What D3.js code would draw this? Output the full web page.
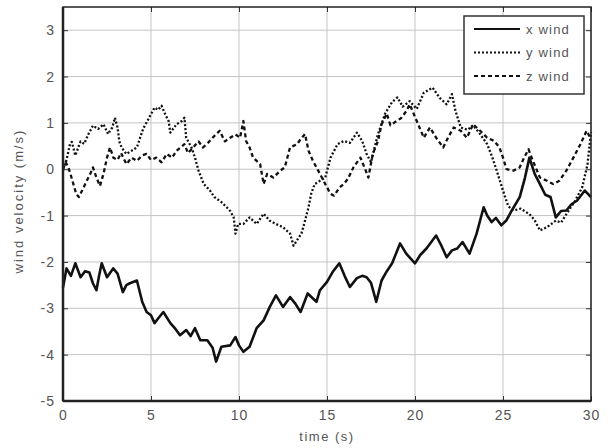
<!DOCTYPE html>
<html>
<head>
<meta charset="utf-8">
<script src="https://cdn.jsdelivr.net/npm/d3@7"></script>
<style>
  body { margin: 0; background: #fff; }
  text { font-family: "Liberation Sans", Arial, sans-serif; }
</style>
</head>
<body>
<div id="chart"></div>
<script>
// chart size
var svgWidth = 608;
var svgHeight = 448;
var margin = { top: 7, right: 17, bottom: 47, left: 63 };
var chartWidth = svgWidth - margin.left - margin.right;
var chartHeight = svgHeight - margin.top - margin.bottom;

// data: [time (s), velocity (m/s)]
var xWind = [[0, -2.55], [0.2, -2.14], [0.45, -2.3], [0.7, -2.03], [1.0, -2.33], [1.25, -2.2], [1.5, -2.23],
  [1.7, -2.46], [1.9, -2.61], [2.05, -2.3], [2.2, -2.03], [2.5, -2.33], [2.85, -2.14], [3.1, -2.25], [3.4, -2.65],
  [3.6, -2.5], [3.8, -2.46], [4.2, -2.4], [4.5, -2.86], [4.75, -3.08], [5.0, -3.15], [5.2, -3.32], [5.45, -3.2],
  [5.7, -3.08], [6.1, -3.32], [6.4, -3.45], [6.65, -3.58], [7.0, -3.47], [7.25, -3.6], [7.5, -3.43], [7.8, -3.69],
  [8.2, -3.69], [8.5, -3.85], [8.7, -4.15], [9.0, -3.83], [9.5, -3.8], [9.8, -3.62], [10.0, -3.8], [10.25, -3.94],
  [10.6, -3.83], [11.0, -3.43], [11.4, -3.26], [11.75, -2.97], [12.1, -2.72], [12.5, -2.97], [12.9, -2.76],
  [13.2, -2.9], [13.5, -3.08], [13.9, -2.68], [14.4, -2.86], [14.6, -2.61], [15.0, -2.43], [15.35, -2.2],
  [15.7, -2.03], [16.0, -2.3], [16.3, -2.54], [16.7, -2.35], [17.0, -2.3], [17.25, -2.33], [17.5, -2.45],
  [17.8, -2.86], [18.1, -2.4], [18.4, -2.2], [18.7, -2.03], [19.15, -1.6], [19.5, -1.82], [20.0, -2.03],
  [20.3, -1.85], [20.65, -1.71], [21.2, -1.43], [21.5, -1.65], [21.8, -1.9], [22.1, -1.75], [22.4, -1.71],
  [22.7, -1.57], [23.1, -1.82], [23.5, -1.39], [23.9, -0.82], [24.1, -1.0], [24.35, -1.14], [24.6, -1.05],
  [24.9, -1.21], [25.2, -1.1], [25.5, -0.89], [25.95, -0.6], [26.25, -0.18], [26.5, 0.25], [26.8, -0.1],
  [27.1, -0.32], [27.4, -0.55], [27.7, -0.6], [28.0, -1.04], [28.3, -0.9], [28.6, -0.89], [28.9, -0.75],
  [29.2, -0.68], [29.65, -0.46], [30.0, -0.6]];

var yWind = [[0, 0.0], [0.2, 0.2], [0.4, 0.55], [0.5, 0.59], [0.7, 0.3], [0.85, 0.45], [1.0, 0.6], [1.2, 0.55],
  [1.45, 0.76], [1.7, 0.94], [2.0, 0.87], [2.3, 0.97], [2.56, 0.76], [2.8, 0.9], [2.95, 1.11], [3.1, 0.9],
  [3.2, 0.6], [3.33, 0.47], [3.6, 0.33], [3.9, 0.4], [4.2, 0.47], [4.4, 0.7], [4.55, 0.87], [4.85, 1.08],
  [5.2, 1.33], [5.4, 1.28], [5.6, 1.37], [5.8, 1.19], [6.0, 1.04], [6.1, 0.79], [6.45, 0.97], [6.75, 1.04],
  [6.9, 1.11], [7.0, 0.68], [7.3, 0.47], [7.5, 0.25], [7.7, -0.03], [8.0, -0.32], [8.35, -0.46], [8.6, -0.6],
  [9.0, -0.71], [9.3, -0.82], [9.5, -0.9], [9.7, -1.04], [9.8, -1.39], [9.95, -1.18], [10.25, -1.18],
  [10.6, -1.04], [11.0, -1.18], [11.4, -0.96], [11.75, -1.11], [12.1, -1.18], [12.5, -1.25], [12.9, -1.39],
  [13.1, -1.65], [13.4, -1.47], [13.55, -1.39], [13.75, -1.11], [13.95, -0.82], [14.1, -0.53], [14.3, -0.32],
  [14.6, -0.25], [14.9, -0.18], [15.2, 0.25], [15.6, 0.54], [15.95, 0.61], [16.3, 0.57], [16.7, 0.79],
  [17.0, 0.61], [17.25, 0.33], [17.5, 0.15], [17.75, 0.54], [17.9, 0.76], [18.3, 1.2], [18.7, 1.45],
  [19.0, 1.55], [19.3, 1.35], [19.7, 1.47], [20.1, 1.3], [20.5, 1.65], [21.0, 1.76], [21.4, 1.54], [21.8, 1.4],
  [22.1, 1.62], [22.3, 1.26], [22.6, 0.9], [23.0, 0.85], [23.3, 0.95], [23.7, 0.76], [24.1, 0.54], [24.4, 0.25],
  [24.7, -0.1], [25.0, -0.46], [25.3, -0.8], [25.6, -0.89], [26.0, -0.85], [26.5, -0.97], [26.8, -1.1],
  [27.1, -1.32], [27.5, -1.25], [28.0, -1.11], [28.3, -1.15], [28.6, -0.97], [29.1, -0.68], [29.5, -0.39],
  [29.8, 0.1], [30.0, 0.8]];

var zWind = [[0, 0.0], [0.15, 0.15], [0.3, 0.05], [0.5, -0.2], [0.75, -0.53], [0.9, -0.6], [1.1, -0.45],
  [1.35, -0.25], [1.55, -0.1], [1.7, 0.04], [1.9, -0.18], [2.1, -0.36], [2.3, -0.1], [2.5, 0.25], [2.67, 0.47],
  [2.86, 0.25], [3.1, 0.2], [3.3, 0.35], [3.6, 0.11], [3.9, 0.25], [4.2, 0.18], [4.5, 0.3], [4.75, 0.33],
  [5.0, 0.2], [5.3, 0.25], [5.6, 0.15], [5.9, 0.33], [6.2, 0.25], [6.45, 0.4], [6.9, 0.54], [7.1, 0.35],
  [7.4, 0.47], [7.7, 0.6], [7.95, 0.47], [8.2, 0.55], [8.5, 0.68], [8.9, 0.83], [9.2, 0.6], [9.5, 0.68],
  [9.8, 0.75], [10.06, 0.68], [10.25, 1.04], [10.4, 0.61], [10.6, 0.47], [10.8, 0.25], [11.2, 0.11],
  [11.4, -0.32], [11.6, -0.1], [11.95, -0.18], [12.35, -0.03], [12.6, 0.04], [12.9, 0.47], [13.3, 0.54],
  [13.5, 0.65], [13.75, 0.76], [13.95, 0.4], [14.2, 0.18], [14.6, -0.1], [14.9, -0.32], [15.2, -0.53],
  [15.4, -0.57], [15.7, -0.4], [15.95, -0.32], [16.2, -0.2], [16.5, 0.04], [16.9, 0.25], [17.2, -0.03],
  [17.35, -0.18], [17.6, 0.33], [17.9, 0.61], [18.1, 0.97], [18.4, 1.2], [18.6, 0.95], [18.8, 1.0], [19.2, 1.1],
  [19.5, 1.25], [19.7, 1.4], [20.1, 1.04], [20.5, 0.68], [20.85, 0.9], [21.2, 0.68], [21.6, 0.47], [21.9, 0.7],
  [22.2, 0.9], [22.6, 0.83], [22.95, 0.68], [23.3, 0.97], [23.7, 0.83], [24.1, 0.68], [24.5, 0.61], [24.8, 0.47],
  [25.0, 0.25], [25.2, 0.0], [25.6, -0.03], [25.95, 0.04], [26.2, 0.25], [26.45, 0.43], [26.7, 0.18],
  [27.1, -0.18], [27.5, -0.25], [27.85, -0.32], [28.2, -0.25], [28.6, -0.03], [29.0, 0.25], [29.4, 0.54],
  [29.75, 0.83], [30.0, 0.65]];

var xTicks = [0, 5, 10, 15, 20, 25, 30];
var yTicks = [-5, -4, -3, -2, -1, 0, 1, 2, 3];
var seriesNames = ["x wind", "y wind", "z wind"];
var seriesDash = ["none", "2,2", "4,3"];

var svg = d3.select("#chart")
  .append("svg")
  .attr("width", svgWidth)
  .attr("height", svgHeight);

var chartGroup = svg.append("g")
  .attr("transform", `translate(${margin.left}, ${margin.top})`);

var xScale = d3.scaleLinear().domain([0, 30]).range([0, chartWidth]);
var yScale = d3.scaleLinear().domain([-5, 3.5]).range([chartHeight, 0]);

// grid
chartGroup.append("g")
  .selectAll("line.vg")
  .data(xTicks)
  .enter().append("line")
  .attr("x1", d => xScale(d)).attr("x2", d => xScale(d))
  .attr("y1", 0).attr("y2", chartHeight)
  .attr("stroke", "#c4c4c4").attr("stroke-width", 1);

chartGroup.append("g")
  .selectAll("line.hg")
  .data(yTicks)
  .enter().append("line")
  .attr("x1", 0).attr("x2", chartWidth)
  .attr("y1", d => yScale(d)).attr("y2", d => yScale(d))
  .attr("stroke", "#c4c4c4").attr("stroke-width", 1);

// series
var line = d3.line().x(d => xScale(d[0])).y(d => yScale(d[1]));
var allSeries = [xWind, yWind, zWind];

chartGroup.selectAll("path.series")
  .data(allSeries)
  .enter().append("path")
  .attr("class", "series")
  .attr("d", line)
  .attr("fill", "none")
  .attr("stroke", "#111")
  .attr("stroke-linejoin", "round")
  .attr("stroke-width", (d, i) => i === 0 ? 2.6 : 2.3)
  .attr("stroke-dasharray", (d, i) => seriesDash[i]);

// axes (ticks inward, on all four sides)
var fmt = d => String(d);
chartGroup.append("g")
  .attr("transform", `translate(0, ${chartHeight})`)
  .call(d3.axisBottom(xScale).tickValues(xTicks).tickFormat(fmt).tickSizeInner(-5).tickSizeOuter(0).tickPadding(9));
chartGroup.append("g")
  .call(d3.axisLeft(yScale).tickValues(yTicks).tickFormat(fmt).tickSizeInner(-5).tickSizeOuter(0).tickPadding(8));
chartGroup.append("g")
  .call(d3.axisTop(xScale).tickValues(xTicks).tickFormat("").tickSizeInner(-5).tickSizeOuter(0));
chartGroup.append("g")
  .attr("transform", `translate(${chartWidth}, 0)`)
  .call(d3.axisRight(yScale).tickValues(yTicks).tickFormat("").tickSizeInner(-5).tickSizeOuter(0));

chartGroup.selectAll(".domain").remove();
chartGroup.selectAll(".tick line").attr("stroke", "#333");
chartGroup.selectAll(".tick text")
  .attr("fill", "#555")
  .style("font-size", "14px")
  .style("letter-spacing", "1px")
  .style("font-family", "'Liberation Sans', Arial, sans-serif");

// frame
chartGroup.append("rect")
  .attr("x", 0).attr("y", 0)
  .attr("width", chartWidth).attr("height", chartHeight)
  .attr("fill", "none").attr("stroke", "#222").attr("stroke-width", 1.5);
chartGroup.append("line")
  .attr("x1", 0).attr("x2", 0).attr("y1", 0).attr("y2", chartHeight)
  .attr("stroke", "#222").attr("stroke-width", 2.5);
chartGroup.append("line")
  .attr("x1", 0).attr("x2", chartWidth).attr("y1", chartHeight).attr("y2", chartHeight)
  .attr("stroke", "#222").attr("stroke-width", 2.5);

// axis labels
svg.append("text")
  .attr("x", margin.left + chartWidth / 2)
  .attr("y", 441)
  .attr("text-anchor", "middle")
  .attr("fill", "#555")
  .style("font-size", "13px")
  .style("letter-spacing", "1.5px")
  .text("time (s)");

svg.append("text")
  .attr("transform", `translate(23, ${margin.top + chartHeight / 2 - 3}) rotate(-90)`)
  .attr("text-anchor", "middle")
  .attr("fill", "#555")
  .style("font-size", "13px")
  .style("letter-spacing", "2px")
  .text("wind velocity (m/s)");

// legend
var legend = svg.append("g").attr("transform", "translate(464, 16)");
legend.append("rect")
  .attr("width", 120).attr("height", 78)
  .attr("fill", "#fff").attr("stroke", "#333").attr("stroke-width", 1.5);

var legendItems = legend.selectAll("g.item")
  .data(seriesNames)
  .enter().append("g")
  .attr("transform", (d, i) => `translate(0, ${13 + i * 23.5})`);
legendItems.append("line")
  .attr("x1", 10).attr("x2", 56)
  .attr("stroke", "#111")
  .attr("stroke-width", 2)
  .attr("stroke-dasharray", (d, i) => seriesDash[i]);
legendItems.append("text")
  .attr("x", 62).attr("dy", "0.35em")
  .attr("fill", "#555")
  .style("font-size", "13px")
  .style("letter-spacing", "1.2px")
  .text(d => d);
</script>
</body>
</html>
